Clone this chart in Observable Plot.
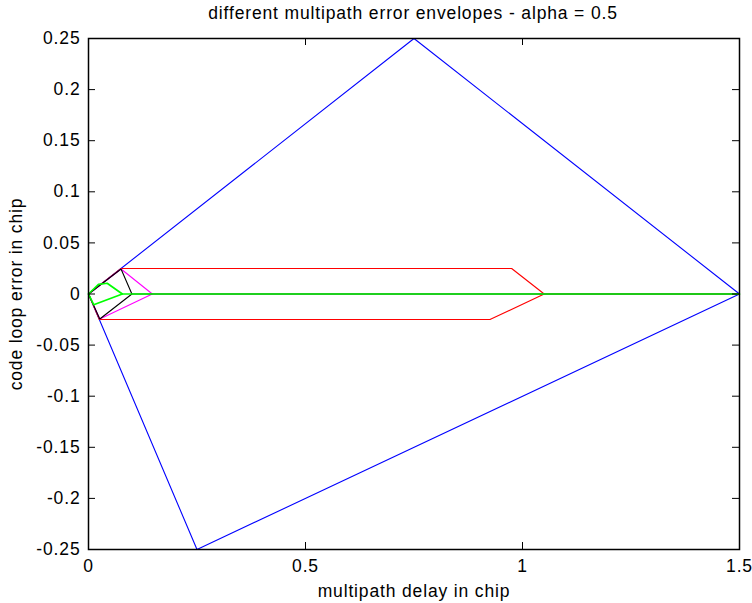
<!DOCTYPE html>
<html>
<head>
<meta charset="utf-8">
<script src="https://cdn.jsdelivr.net/npm/d3@7"></script>
<script src="https://cdn.jsdelivr.net/npm/@observablehq/plot@0.6"></script>
<style>
  html, body { margin: 0; padding: 0; background: #fff; }
  #title { width: 752px; height: 26px; padding-left: 74px; box-sizing: border-box; text-align: center; font-family: "Liberation Sans", Arial, sans-serif; font-size: 17.5px; line-height: 27px; color: #000; letter-spacing: 0.85px; white-space: nowrap; }
  svg text { font-family: "Liberation Sans", Arial, sans-serif; letter-spacing: 0.85px; }
</style>
</head>
<body>
<div id="title"></div>
<div id="chart"></div>
<script>
const titleText = "different multipath error envelopes - alpha = 0.5";
const xLabel = "multipath delay in chip";
const yLabel = "code loop error in chip";

const xTicks = [0, 0.5, 1, 1.5];
const yTicks = [-0.25, -0.2, -0.15, -0.1, -0.05, 0, 0.05, 0.1, 0.15, 0.2, 0.25];

// blue envelope
const blueUpperX = [0, 0.75, 1.5];
const blueUpperY = [0, 0.25, 0];
const blueLowerX = [0, 0.25, 1.5];
const blueLowerY = [0, -0.25, 0];
// red envelope
const redUpperX = [0, 0.075, 0.975, 1.05, 1.5];
const redUpperY = [0, 0.025, 0.025, 0, 0];
const redLowerX = [0, 0.025, 0.925, 1.05];
const redLowerY = [0, -0.025, -0.025, 0];
// magenta envelope
const magUpperX = [0, 0.075, 0.147, 1.5];
const magUpperY = [0, 0.0245, 0, 0];
const magLowerX = [0, 0.026, 0.147];
const magLowerY = [0, -0.0245, 0];
// black envelope
const blkUpperX = [0, 0.075, 0.1, 1.5];
const blkUpperY = [0, 0.0245, 0, 0];
const blkLowerX = [0, 0.026, 0.1];
const blkLowerY = [0, -0.0245, 0];
// green envelope
const grnUpperX = [0, 0.023, 0.043, 0.078, 1.5];
const grnUpperY = [0, 0.0095, 0.0105, 0, 0];
const grnLowerX = [0, 0.012, 0.078];
const grnLowerY = [0, -0.0105, 0];

document.getElementById("title").textContent = titleText;

function pts(xs, ys) { return xs.map((x, i) => ({x, y: ys[i]})); }
const fmt = d => String(+d.toFixed(2));

const W = 752, H = 577;
const mL = 88, mR = 13, mT = 12, mB = 54;
const innerH = H - mT - mB, innerW = W - mL - mR;
const tk = 7;

const series = [
  [blueUpperX, blueUpperY, blueLowerX, blueLowerY, "#0000ff", 1.1],
  [redUpperX, redUpperY, redLowerX, redLowerY, "#ff0000", 1.1],
  [magUpperX, magUpperY, magLowerX, magLowerY, "#ff00ff", 1.1],
  [blkUpperX, blkUpperY, blkLowerX, blkLowerY, "#000000", 1.1],
  [grnUpperX, grnUpperY, grnLowerX, grnLowerY, "#00ff00", 1.7]
];
const lineMarks = [];
for (const [ux, uy, lx, ly, c, w] of series) {
  lineMarks.push(Plot.line(pts(ux, uy), {x: "x", y: "y", stroke: c, strokeWidth: w}));
  lineMarks.push(Plot.line(pts(lx, ly), {x: "x", y: "y", stroke: c, strokeWidth: w}));
}

const chart = Plot.plot({
  width: W, height: H,
  marginLeft: mL, marginRight: mR, marginTop: mT, marginBottom: mB,
  style: {fontFamily: "Liberation Sans, Arial, sans-serif", fontSize: "17.5px", color: "#000", background: "#fff"},
  x: {domain: [0, 1.5]},
  y: {domain: [-0.25, 0.25]},
  marks: [
    ...lineMarks,
    Plot.frame({stroke: "#000", strokeWidth: 1.5}),
    Plot.tickX(xTicks, {x: d => d, stroke: "#000", insetTop: innerH - tk}),
    Plot.tickX(xTicks, {x: d => d, stroke: "#000", insetBottom: innerH - tk}),
    Plot.tickY(yTicks, {y: d => d, stroke: "#000", insetLeft: innerW - tk}),
    Plot.tickY(yTicks, {y: d => d, stroke: "#000", insetRight: innerW - tk}),
    Plot.axisX({ticks: xTicks, tickSize: 0, tickPadding: 10, tickFormat: fmt, label: null, fontSize: 17.5}),
    Plot.axisY({ticks: yTicks, tickSize: 0, tickPadding: 8, tickFormat: fmt, label: null, fontSize: 17.5}),
    Plot.text([xLabel], {frameAnchor: "bottom", text: d => d, dy: 47, fontSize: 17.5}),
    Plot.text([yLabel], {frameAnchor: "left", text: d => d, textAnchor: "middle", dx: -72, rotate: -90, fontSize: 17.5})
  ]
});
document.getElementById("chart").appendChild(chart);
</script>
</body>
</html>
